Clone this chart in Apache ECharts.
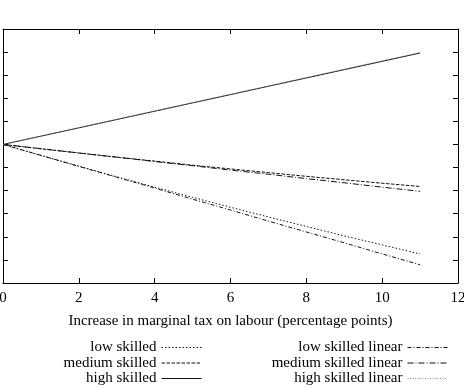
<!DOCTYPE html>
<html>
<head>
<meta charset="utf-8">
<script src="https://cdn.jsdelivr.net/npm/echarts@6/dist/echarts.min.js"></script>
<style>
  html, body { margin: 0; padding: 0; background: #fff; }
  #chart { width: 464px; height: 389px; }
</style>
</head>
<body>
<div id="chart"></div>
<script>
// x: increase in marginal tax on labour (percentage points)
const taxIncrease = [0, 1, 2, 3, 4, 5, 6, 7, 8, 9, 10, 11]

// values
const lowSkilled = [0, -0.48, -0.94, -1.40, -1.85, -2.29, -2.72, -3.14, -3.55, -3.96, -4.35, -4.74]
const mediumSkilled = [0, -0.19, -0.37, -0.55, -0.72, -0.90, -1.06, -1.22, -1.38, -1.53, -1.68, -1.82]
const highSkilled = [0, 0.36, 0.72, 1.08, 1.44, 1.80, 2.16, 2.52, 2.88, 3.24, 3.60, 3.96]
const lowSkilledLinear = [0, -0.47, -0.95, -1.42, -1.89, -2.37, -2.84, -3.32, -3.79, -4.26, -4.74, -5.21]
const mediumSkilledLinear = [0, -0.18, -0.37, -0.55, -0.74, -0.92, -1.11, -1.29, -1.48, -1.66, -1.85, -2.03]
const highSkilledLinear = [0, 0.36, 0.72, 1.09, 1.45, 1.81, 2.17, 2.53, 2.90, 3.26, 3.62, 3.98]

const xTicks = [0, 2, 4, 6, 8, 10, 12]

const FONT = '"Liberation Serif", "Times New Roman", serif'

const chart = echarts.init(document.getElementById('chart'))

// zip x with y
function pairs (ys) {
  return ys.map((y, i) => [taxIncrease[i], y])
}

function makeSeries (name, ys, dash, color) {
  return {
    name: name,
    type: 'line',
    data: pairs(ys),
    symbol: 'none',
    silent: true,
    itemStyle: { color: color || '#111', opacity: 0 },
    lineStyle: { color: color || '#111', width: 1, type: dash }
  }
}

const frameLine = { show: true, onZero: false, lineStyle: { color: '#000', width: 1 } }
const innerTick = { show: true, inside: true, length: 5, lineStyle: { color: '#000', width: 1 } }

const legendBase = {
  orient: 'vertical',
  align: 'right',
  top: 340,
  padding: 0,
  itemWidth: 40,
  itemHeight: 14,
  itemGap: 0.5,
  selectedMode: false,
  itemStyle: { opacity: 0 },
  lineStyle: { width: 1 },
  textStyle: { fontFamily: FONT, fontSize: 15, lineHeight: 15, color: '#000' }
}

chart.setOption({
  animation: false,
  grid: { left: 3, top: 29, right: 6, bottom: 106, outerBoundsMode: 'none', containLabel: false },
  xAxis: [
    {
      type: 'value',
      min: xTicks[0],
      max: xTicks[xTicks.length - 1],
      interval: 2,
      position: 'bottom',
      axisLine: frameLine,
      axisTick: innerTick,
      splitLine: { show: false },
      axisLabel: { margin: 8, fontFamily: FONT, fontSize: 15, color: '#000' },
      name: 'Increase in marginal tax on labour (percentage points)',
      nameLocation: 'middle',
      nameGap: 31,
      nameTextStyle: { fontFamily: FONT, fontSize: 15, color: '#000' }
    },
    {
      type: 'value',
      min: 0,
      max: 12,
      interval: 2,
      position: 'top',
      axisLine: frameLine,
      axisTick: innerTick,
      splitLine: { show: false },
      axisLabel: { show: false }
    }
  ],
  yAxis: [
    {
      type: 'value',
      min: -6,
      max: 5,
      interval: 1,
      position: 'left',
      axisLine: frameLine,
      axisTick: innerTick,
      splitLine: { show: false },
      axisLabel: { show: false }
    },
    {
      type: 'value',
      min: -6,
      max: 5,
      interval: 1,
      position: 'right',
      axisLine: frameLine,
      axisTick: innerTick,
      splitLine: { show: false },
      axisLabel: { show: false }
    }
  ],
  legend: [
    Object.assign({}, legendBase, {
      right: 262,
      data: ['low skilled', 'medium skilled', 'high skilled']
    }),
    Object.assign({}, legendBase, {
      right: 16,
      data: ['low skilled linear', 'medium skilled linear', 'high skilled linear']
    })
  ],
  series: [
    makeSeries('low skilled', lowSkilled, [1.5, 2]),
    makeSeries('medium skilled', mediumSkilled, [3.5, 1.5]),
    makeSeries('high skilled', highSkilled, 'solid'),
    makeSeries('low skilled linear', lowSkilledLinear, [4, 2, 1, 2]),
    makeSeries('medium skilled linear', mediumSkilledLinear, [6, 2, 1, 2]),
    makeSeries('high skilled linear', highSkilledLinear, [1, 1.5], '#888')
  ]
})
</script>
</body>
</html>
